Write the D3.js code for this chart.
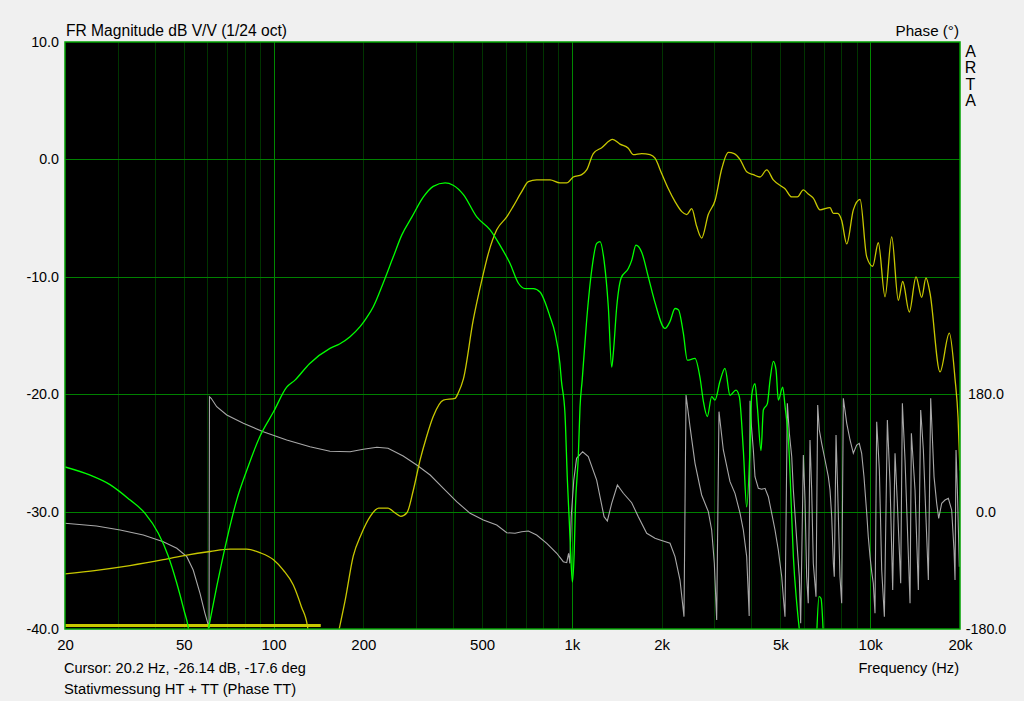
<!DOCTYPE html>
<html><head><meta charset="utf-8">
<script src="https://cdn.jsdelivr.net/npm/d3@7/dist/d3.min.js"></script>
<style>
html,body{margin:0;padding:0;background:#f0f0f0;}
svg{display:block;font-family:"Liberation Sans",Arial,sans-serif;}
</style></head>
<body><svg id="c" width="1024" height="701"></svg>
<script>
// ---------------- data ----------------
const freqTicks = [20,50,100,200,500,1000,2000,5000,10000,20000];
const freqLabels = ["20","50","100","200","500","1k","2k","5k","10k","20k"];
const dbTicks = [-40,-30,-20,-10,0,10];
const dbGrid = [-30,-20,-10,0];
const phaseTicks = [-180,0,180];
const minorFreqs = [30,40,50,60,70,80,90,200,300,400,500,600,700,800,900,2000,3000,4000,5000,6000,7000,8000,9000];
const majorFreqs = [100,1000,10000];

// Tweeter (HT) magnitude, yellow [Hz, dB]
const htMag = [[166,-40],[174,-37.5],[185,-33.8],[197,-31.9],[211,-30.4],[225,-29.7],[242,-29.7],[255,-30.1],[267,-30.4],[280,-30.1],[294,-28.2],[310,-25.6],[326,-23.6],[343,-21.9],[371,-20.5],[406,-20.35],[416,-19.9],[433,-18.7],[467,-13.7],[499,-10.3],[525,-8.0],[560,-6.0],[605,-4.9],[636,-4.0],[679,-2.75],[715,-1.9],[762,-1.75],[845,-1.75],[912,-2.0],[961,-2.0],[1011,-1.5],[1079,-1.3],[1121,-0.9],[1180,0.5],[1259,1.0],[1370,1.7],[1450,1.3],[1546,0.95],[1607,0.4],[1714,0.5],[1828,0.4],[1900,0.1],[2000,-1.2],[2106,-2.5],[2218,-3.6],[2336,-4.45],[2427,-4.7],[2522,-4.2],[2620,-5.7],[2724,-6.7],[2866,-4.7],[3020,-3.5],[3180,-0.8],[3345,0.6],[3500,0.5],[3660,0.0],[3855,-1.05],[4058,-1.3],[4272,-1.5],[4500,-0.9],[4734,-1.75],[5052,-2.3],[5181,-2.5],[5458,-3.2],[5700,-3.2],[5970,-2.6],[6200,-2.95],[6446,-3.3],[6790,-4.3],[7334,-4.1],[7524,-4.6],[7780,-4.6],[8026,-5.2],[8344,-7.2],[8780,-4.3],[9248,-3.4],[9736,-8.3],[10198,-9.1],[10646,-7.1],[11214,-11.7],[11806,-6.6],[12426,-12.0],[12854,-10.4],[13524,-13.0],[14244,-10.0],[14880,-11.75],[15382,-10.1],[15868,-11.4],[17140,-18.1],[18420,-14.8],[19240,-18.65],[19700,-22],[20000,-26.5]];

// Yellow low-frequency trace [Hz, dB]
const htLow = [[20,-35.3],[25.5,-35.0],[33,-34.6],[42.7,-34.1],[51.2,-33.7],[61.3,-33.4],[71.5,-33.2],[81.3,-33.2],[90,-33.5],[100,-34.1],[108,-35.0],[116.5,-36.25],[124,-38.1],[130,-39.8],[131,-40.5]];
// Yellow flat floor trace [Hz, dB]
const htFloor = [[20,-39.7],[144,-39.7]];

// Woofer (TT) magnitude, green [Hz, dB]
const ttMag = [[60.5,-40],[64.5,-36.4],[69.7,-32.4],[75.3,-29.0],[81.3,-26.5],[90,-23.6],[100,-21.5],[110.7,-19.4],[118,-18.8],[132,-17.4],[154.6,-16.1],[167,-15.7],[180.5,-15.1],[195,-14.25],[205,-13.5],[216,-12.55],[233,-10.55],[252,-8.3],[269,-6.45],[291,-4.9],[318,-3.2],[343,-2.3],[376,-2.0],[400,-2.2],[433,-3.0],[480,-4.9],[532,-6.0],[574,-7.3],[620,-8.85],[662,-10.55],[697,-11.0],[743,-11.0],[782,-11.3],[845,-13.4],[878,-14.8],[912,-17.4],[922,-18.8],[948,-21.6],[966,-27.3],[981,-31.0],[991,-33.55],[1004,-36.0],[1018,-33.55],[1028,-29.6],[1051,-25.3],[1065,-21.1],[1083,-18.8],[1121,-13.7],[1166,-9.4],[1211,-7.15],[1243,-7.0],[1282,-8.6],[1325,-12.55],[1360,-17.7],[1377,-16.5],[1414,-12.55],[1463,-10.1],[1546,-9.3],[1587,-8.6],[1640,-7.3],[1714,-7.9],[1804,-10.0],[1900,-12.2],[2052,-14.4],[2133,-13.8],[2217,-12.7],[2275,-12.8],[2364,-14.8],[2438,-17.1],[2587,-16.95],[2689,-18.6],[2759,-20.6],[2845,-21.9],[2942,-20.2],[3019,-20.5],[3137,-18.9],[3261,-17.8],[3389,-20.1],[3549,-19.65],[3642,-20.2],[3757,-24.8],[3855,-29.6],[3956,-24.5],[4007,-20.1],[4111,-19.1],[4186,-21.1],[4306,-24.8],[4384,-21.35],[4522,-20.8],[4616,-18.8],[4736,-17.2],[4834,-17.9],[4922,-20.5],[5090,-19.4],[5182,-21.0],[5358,-25.3],[5414,-28.2],[5526,-33.8],[5673,-37.8],[5786,-40],[5850,-41]];
const ttBump = [[6617,-40.5],[6737,-37.25],[6842,-37.4],[6966,-40.5]];
// Green low-frequency trace [Hz, dB]
const ttLow = [[20,-26.2],[24.3,-26.9],[28.3,-27.7],[33,-29.0],[37.1,-30.15],[41.1,-31.85],[44.4,-33.8],[47.4,-36.1],[50.1,-38.4],[51.8,-39.9],[52.2,-40.5]];

// Phase TT, grey [Hz, degrees]
const ttPhase = [[20,-17.9],[25.5,-22.1],[30.6,-28.2],[36.6,-35.9],[42.7,-46.1],[47.4,-56.3],[51.2,-69.1],[53.8,-89.5],[56.7,-125.3],[58.9,-155.9],[60.8,-178],[61.0,176],[61.8,173.7],[64.5,160.8],[69.7,148.1],[79.2,135.4],[92.4,122.5],[110.7,109.8],[132.5,99.5],[154.6,92.5],[180.5,91.8],[200,95.5],[222,98.6],[242,97.1],[272,85.2],[302,71.4],[335,56.1],[371,35.7],[411,15.2],[456,-2.6],[505,-12.9],[560,-20.5],[605,-32.4],[645,-33.3],[679,-30.8],[715,-29.7],[762,-35.9],[824,-48.6],[890,-63.9],[936,-76.8],[961,-78.3],[975,-63.9],[985,-79.3],[995,-7.8],[1015,48.4],[1037,81.7],[1087,91.8],[1135,84.2],[1211,48.4],[1282,-7.8],[1315,-14.4],[1360,12.7],[1421,40.8],[1488,28.1],[1587,13.6],[1670,-7.8],[1782,-33.3],[1900,-40.9],[1975,-43.5],[2133,-48.6],[2217,-69.1],[2304,-104.9],[2376,-161.1],[2414,178.8],[2489,130.2],[2587,74.0],[2723,25.5],[2867,-0.1],[2942,-28.2],[3003,-79.3],[3058,-166.2],[3113,153.2],[3219,94.5],[3389,45.9],[3522,28.0],[3660,-2.1],[3756,-28.2],[3855,-69.1],[3904,-127.9],[3930,-160],[3956,170],[4000,130],[4058,94.4],[4110,53.5],[4218,35.7],[4328,34.2],[4441,35.7],[4556,22.8],[4676,-2.6],[4797,-28.2],[4920,-58.9],[5052,-99.8],[5114,-130.5],[5181,-161.1],[5276,166.0],[5358,120.0],[5458,84.2],[5526,33.1],[5673,-43.5],[5786,-99.8],[5848,-171.3],[5970,86.8],[6047,17.8],[6125,-99.8],[6200,-140.6],[6284,109.8],[6366,33.1],[6446,-79.3],[6582,-130.5],[6668,163.4],[6752,125.1],[6877,104.7],[7057,79.1],[7238,53.5],[7334,33.1],[7430,-7.8],[7525,-79.3],[7580,-99.8],[7682,117.4],[7780,33.1],[7920,-99.8],[8025,-140.6],[8129,173.7],[8344,135.4],[8560,109.8],[8780,89.4],[9008,102.1],[9192,104.7],[9362,89.4],[9532,53.5],[9736,-2.6],[9854,-38.5],[9988,-69.1],[10116,-92.1],[10242,-109.9],[10378,-155.9],[10514,137.8],[10734,63.8],[10929,-89.5],[11156,-161.1],[11417,140.5],[11655,43.4],[11897,-120.2],[12113,89.4],[12333,12.7],[12655,-110.0],[12819,166.0],[13085,79.1],[13600,-140.6],[13741,120.0],[14135,33.1],[14503,-120.2],[14766,155.8],[15074,94.5],[15667,-104.9],[15952,173.7],[16367,53.6],[16707,12.7],[16968,-10.3],[17365,12.7],[17817,17.8],[18280,20.4],[18755,2.5],[19096,-58.9],[19245,-104.9],[19396,94.5],[19597,33.1],[19900,-84.4]];

// ---------------- drawing ----------------
const L = 65, R = 960, T = 42, B = 629;
const svg = d3.select("#c");
const x = d3.scaleLog().domain([20,20000]).range([L,R]);
const y = d3.scaleLinear().domain([-40,10]).range([B,T]);
const yP = d3.scaleLinear().domain([-180,720]).range([B,T]);
const px = v => Math.round(v) + 0.5;

svg.append("rect").attr("x",L).attr("y",T).attr("width",R-L).attr("height",B-T).attr("fill","#000");

const grid = svg.append("g");
grid.selectAll("line.minor").data(minorFreqs).join("line").attr("class","minor")
  .attr("x1",d=>px(x(d))).attr("x2",d=>px(x(d))).attr("y1",T).attr("y2",B)
  .style("stroke","#003400").style("stroke-width","1px");
grid.selectAll("line.major").data(majorFreqs).join("line").attr("class","major")
  .attr("x1",d=>px(x(d))).attr("x2",d=>px(x(d))).attr("y1",T).attr("y2",B)
  .style("stroke","#008800").style("stroke-width","1px");
grid.selectAll("line.hgrid").data(dbGrid).join("line").attr("class","hgrid")
  .attr("x1",L).attr("x2",R).attr("y1",d=>px(y(d))).attr("y2",d=>px(y(d)))
  .style("stroke","#008000").style("stroke-width","1px");

svg.append("clipPath").attr("id","clip").append("rect").attr("x",L).attr("y",T).attr("width",R-L).attr("height",B-T);
const plot = svg.append("g").attr("clip-path","url(#clip)");

const lineDb = d3.line().x(d=>x(d[0])).y(d=>y(d[1])).curve(d3.curveMonotoneX);
const linePh = d3.line().x(d=>x(d[0])).y(d=>yP(d[1]));

plot.append("path").datum(ttPhase).attr("d",linePh).attr("fill","none").attr("stroke","#a8a8a8").attr("stroke-width",1.1);
plot.append("path").datum(htFloor).attr("d",lineDb).attr("fill","none").attr("stroke","#c8c800").attr("stroke-width",3);
[htLow, htMag].forEach(s=>plot.append("path").datum(s).attr("d",lineDb).attr("fill","none").attr("stroke","#c8c800").attr("stroke-width",1.3));
[ttLow, ttMag, ttBump].forEach(s=>plot.append("path").datum(s).attr("d",lineDb).attr("fill","none").attr("stroke","#00ff00").attr("stroke-width",1.3));

// border
svg.append("rect").attr("x",L).attr("y",T).attr("width",R-L).attr("height",B-T).attr("fill","none").attr("stroke","#00a000").attr("stroke-width",1.5);

// axes labels
const fsTick = 14.3;
svg.append("g").attr("transform",`translate(${L},0)`)
  .call(d3.axisLeft(y).tickValues(dbTicks).tickSize(0).tickPadding(6).tickFormat(d=>d.toFixed(1)))
  .call(g=>g.select(".domain").remove())
  .call(g=>g.selectAll("text").attr("fill","#000").attr("font-size",fsTick).attr("font-family",null));
svg.append("g").attr("transform",`translate(${R},0)`)
  .call(d3.axisRight(yP).tickValues(phaseTicks).tickSize(0).tickPadding(26).tickFormat(d=>d.toFixed(1)))
  .call(g=>g.select(".domain").remove())
  .call(g=>g.selectAll("text").attr("fill","#000").attr("font-size",fsTick).attr("font-family",null).attr("text-anchor","middle"));
svg.append("g").attr("transform",`translate(0,${B})`)
  .call(d3.axisBottom(x).tickValues(freqTicks).tickSize(0).tickPadding(10).tickFormat((d,i)=>freqLabels[i]))
  .call(g=>g.select(".domain").remove())
  .call(g=>g.selectAll("text").attr("fill","#000").attr("font-size",15).attr("font-family",null));

function txt(s,xx,yy,anchor,size){
  svg.append("text").attr("x",xx).attr("y",yy).attr("text-anchor",anchor||"start")
    .attr("dominant-baseline","central").attr("font-size",size||15).attr("fill","#000").text(s);
}
txt("FR Magnitude dB V/V (1/24 oct)",66,30,"start",15.6);
txt("Phase (°)",959,30,"end",15.2);
["A","R","T","A"].forEach((c,i)=>txt(c,970.5,51+i*16.6,"middle",16));
txt("Cursor: 20.2 Hz, -26.14 dB, -17.6 deg",64,668,"start",14.5);
txt("Stativmessung HT + TT (Phase TT)",64,689,"start",14.75);
txt("Frequency (Hz)",959,668,"end",14.6);
</script></body></html>
